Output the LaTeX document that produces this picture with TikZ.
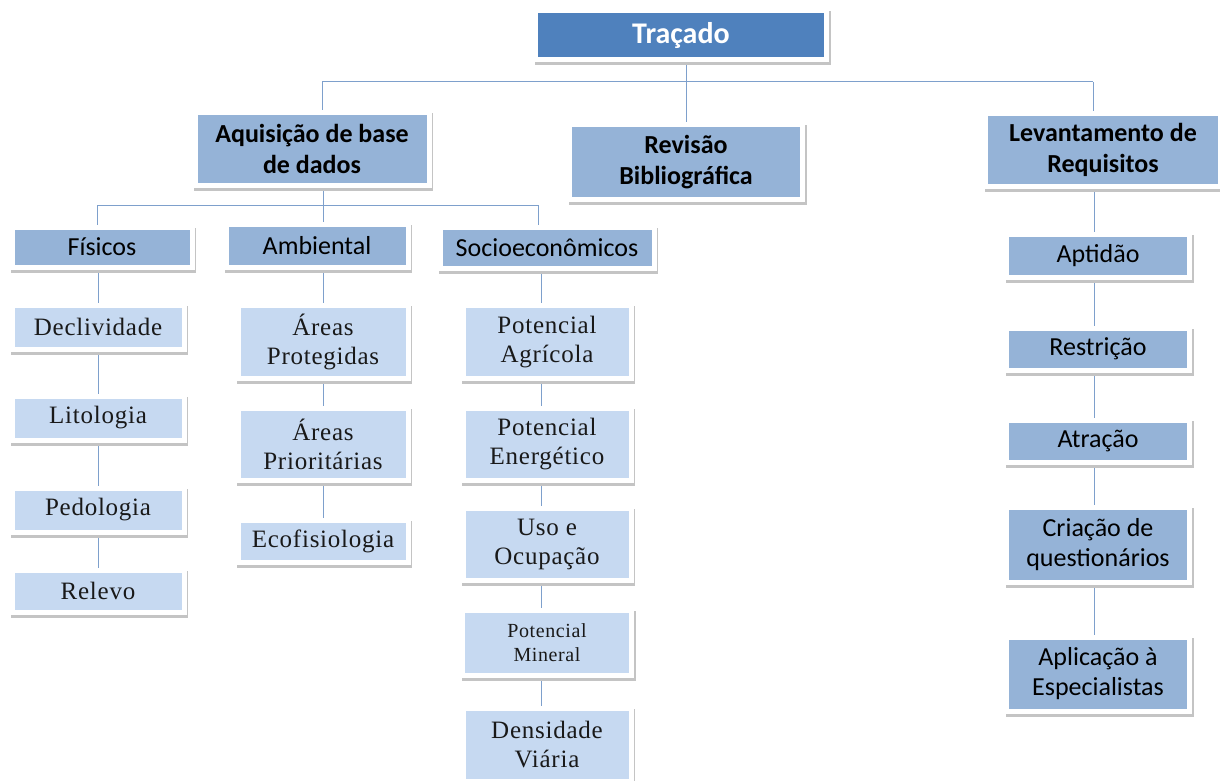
\documentclass[tikz,border=0pt]{standalone}
\usepackage{fontspec}
\setmainfont{Carlito}
\newfontfamily\tms[LetterSpace=3]{Liberation Serif}
\usetikzlibrary{shadows,backgrounds}
\definecolor{dblue}{HTML}{4F81BD}
\definecolor{mblue}{HTML}{95B3D7}
\definecolor{lblue}{HTML}{C6D9F1}
\definecolor{lnc}{HTML}{7EA0CC}
\definecolor{shd}{HTML}{C4C4C4}
\begin{document}
\begin{tikzpicture}[x=1pt,y=-1pt,
  box/.style={draw=white, line width=5pt, inner sep=0pt, align=center,
    drop shadow={shadow xshift=1.5pt, shadow yshift=-3pt, opacity=1, fill=shd, draw=shd, line width=5pt}},
  topbox/.style={box, fill=dblue, text=white, font=\fontsize{30}{33}\selectfont\bfseries},
  midbox/.style={box, fill=mblue, font=\fontsize{26}{31}\selectfont\bfseries},
  subbox/.style={box, fill=mblue, font=\fontsize{26}{30}\selectfont},
  leafbox/.style={box, fill=lblue, text=black!90, font=\tms\fontsize{25}{29}\selectfont},
  conn/.style={draw=lnc, line width=1pt},
  sz/.style 2 args={minimum width=#1pt, minimum height=#2pt}
]
\useasboundingbox (0,0) rectangle (1220,781);

% level 0 and 1
\node[topbox, sz={291}{49}] (tra) at (681,35) {Traçado};
\node[midbox, sz={234}{73}] (aq) at (312,149) {Aquisição de base\\de dados};
\node[midbox, sz={233}{74}] (rev) at (686,162) {Revisão\\Bibliográfica};
\node[midbox, sz={235}{72}] (lev) at (1103,150) {Levantamento de\\Requisitos};

% level 2
\node[subbox, sz={180}{40}] (fis) at (102,247) {Físicos};
\node[subbox, sz={182}{43}] (amb) at (317,246) {Ambiental};
\node[subbox, sz={214}{41}] (soc) at (547,248) {Socioeconômicos};

% left column
\node[leafbox, sz={172}{44}] (dec) at (98,327) {Declividade};
\node[leafbox, sz={172}{44}] (lit) at (98,418) {Litologia};
\node[leafbox, sz={172}{44}] (ped) at (98,510) {Pedologia};
\node[leafbox, sz={172}{42}] (rel) at (98,591) {Relevo};

% ambiental column
\node[leafbox, sz={170}{73}] (ap) at (323,342) {Áreas\\Protegidas};
\node[leafbox, sz={170}{72}] (apr) at (323,444) {Áreas\\Prioritárias};
\node[leafbox, sz={170}{42}] (eco) at (323,541) {Ecofisiologia};

% socio column
\node[leafbox, sz={168}{73}] (pag) at (547,342) {Potencial\\Agrícola};
\node[leafbox, sz={168}{72}] (pen) at (547,444) {Potencial\\Energético};
\node[leafbox, sz={168}{72}] (uso) at (547,544) {Uso e\\Ocupação};
\node[leafbox, sz={169}{65}, font=\tms\fontsize{20}{24}\selectfont] (pmi) at (547,643) {Potencial\\Mineral};
\node[leafbox, sz={168}{73}] (dvi) at (547,745) {Densidade\\Viária};

% right column
\node[subbox, sz={183}{43}] (apt) at (1098,256) {Aptidão};
\node[subbox, sz={183}{42}] (res) at (1098,349) {Restrição};
\node[subbox, sz={183}{42}] (atr) at (1098,441) {Atração};
\node[subbox, sz={183}{75}] (cri) at (1098,545) {Criação de\\questionários};
\node[subbox, sz={183}{74}] (apl) at (1098,674) {Aplicação à\\Especialistas};

% bus coordinates
\coordinate (b1L) at (322,82);
\coordinate (b1M) at (686,82);
\coordinate (b1R) at (1093,82);
\coordinate (b2L) at (97,205);
\coordinate (b2M) at (323,205);
\coordinate (b2R) at (538,205);
\coordinate (cF) at (98,0);
\coordinate (cA) at (323,0);
\coordinate (cS) at (541,0);
\coordinate (cR) at (1094,0);

\begin{scope}[on background layer]
  \draw[conn] (tra.center -| b1M) -- (b1M);
  \draw[conn] (b1L) -- (b1R);
  \draw[conn] (b1L) -- (b1L |- aq.center);
  \draw[conn] (b1M) -- (b1M |- rev.center);
  \draw[conn] (b1R) -- (b1R |- lev.center);
  \draw[conn] (aq.center -| b2M) -- (b2M);
  \draw[conn] (b2L) -- (b2R);
  \draw[conn] (b2L) -- (b2L |- fis.center);
  \draw[conn] (b2M) -- (b2M |- amb.center);
  \draw[conn] (b2R) -- (b2R |- soc.center);
  \draw[conn] (fis.center -| cF) -- (rel.center -| cF);
  \draw[conn] (amb.center -| cA) -- (eco.center -| cA);
  \draw[conn] (soc.center -| cS) -- (dvi.center -| cS);
  \draw[conn] (lev.center -| cR) -- (apl.center -| cR);
\end{scope}
\end{tikzpicture}
\end{document}
